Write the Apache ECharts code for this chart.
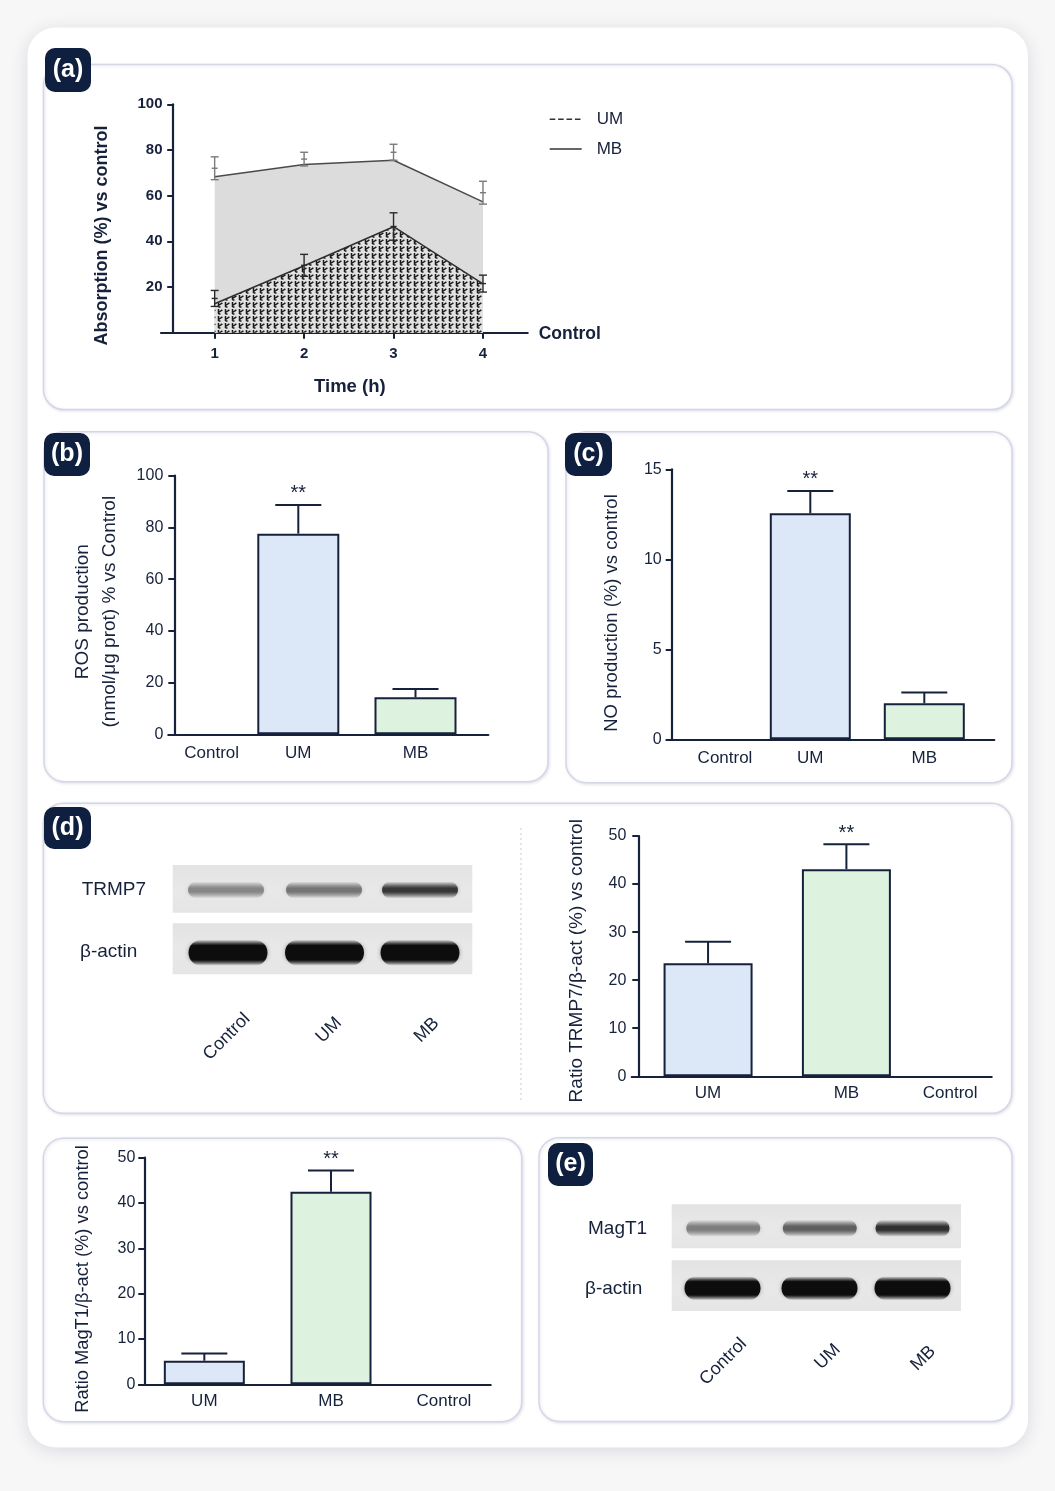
<!DOCTYPE html>
<html>
<head>
<meta charset="utf-8">
<script src="https://cdn.jsdelivr.net/npm/echarts@6/dist/echarts.min.js"></script>
<style>
  html, body { margin: 0; padding: 0; background: #f7f7f8; }
  #chart { width: 1055px; height: 1491px; }
</style>
</head>
<body>
<div id="chart"></div>
<script>
const FONT = '"Liberation Sans", Arial, Helvetica, sans-serif';
const NAVY = '#16213b';

// (a) absorption vs time
const hours = [1, 2, 3, 4];
const umLine = [12.7, 29.3, 46.4, 21.4];
const mbLine = [68.3, 73.6, 75.5, 57.3];
const umMean = [15, 29.5, 46.5, 21.5];
const umErr = [3.5, 4.8, 6, 3.7];
const mbMean = [72, 76, 79, 61.3];
const mbErr = [5, 3, 3.5, 5];

// (b) ROS production
const rosCats = ['Control', 'UM', 'MB'];
const rosVal = [0, 77.6, 14.3];
const rosErr = [0, 11.1, 3.2];
const rosSig = ['', '**', ''];

// (c) NO production
const noCats = ['Control', 'UM', 'MB'];
const noVal = [0, 12.56, 2.0];
const noErr = [0, 1.24, 0.6];
const noSig = ['', '**', ''];

// (d) TRMP7 / b-actin ratio
const trmCats = ['UM', 'MB', 'Control'];
const trmVal = [23.5, 43.1, 0];
const trmErr = [4.5, 5.2, 0];
const trmSig = ['', '**', ''];

// MagT1 / b-actin ratio
const magCats = ['UM', 'MB', 'Control'];
const magVal = [5.2, 42.5, 0];
const magErr = [1.6, 4.7, 0];
const magSig = ['', '**', ''];

// western blot lanes, band darkness 0..1
const laneNames = ['Control', 'UM', 'MB'];
const trmBand = [0.42, 0.5, 0.78];
const magBand = [0.46, 0.6, 0.82];
const actinBand = [0.98, 0.98, 0.98];

const FILL = { UM: '#dce8f8', MB: '#ddf2df', Control: 'rgba(0,0,0,0)' };

// little hatch tile for the UM area
function hatchTile() {
  const c = document.createElement('canvas');
  c.width = 7; c.height = 7;
  const g = c.getContext('2d');
  g.fillStyle = '#e2e2e2';
  g.fillRect(0, 0, 7, 7);
  g.strokeStyle = '#1a1a1a';
  g.lineWidth = 1.5;
  g.beginPath();
  g.moveTo(1.5, 1); g.lineTo(1.5, 6);
  g.moveTo(1.5, 4.5); g.lineTo(5.4, 1.8);
  g.moveTo(1.5, 6); g.lineTo(3.5, 6);
  g.stroke();
  return c;
}

function absErrItem(color) {
  return function (params, api) {
    const x = api.value(0), m = api.value(1), e = api.value(2);
    const lo = api.coord([x, m - e]), hi = api.coord([x, m + e]), mid = api.coord([x, m]);
    const st = { stroke: color, lineWidth: 1.4 };
    return {
      type: 'group',
      children: [
        { type: 'line', shape: { x1: lo[0], y1: lo[1], x2: hi[0], y2: hi[1] }, style: st },
        { type: 'line', shape: { x1: hi[0] - 4, y1: hi[1], x2: hi[0] + 4, y2: hi[1] }, style: st },
        { type: 'line', shape: { x1: lo[0] - 4, y1: lo[1], x2: lo[0] + 4, y2: lo[1] }, style: st },
        { type: 'line', shape: { x1: mid[0] - 3, y1: mid[1], x2: mid[0] + 3, y2: mid[1] }, style: st }
      ]
    };
  };
}

function barErrItem(sig) {
  return function (params, api) {
    const i = api.value(0), v = api.value(1), e = api.value(2);
    if (!e) return null;
    const base = api.coord([i, v]);
    const top = api.coord([i, v + e]);
    const st = { stroke: NAVY, lineWidth: 2 };
    const kids = [
      { type: 'line', shape: { x1: base[0], y1: base[1], x2: top[0], y2: top[1] }, style: st },
      { type: 'line', shape: { x1: top[0] - 23, y1: top[1], x2: top[0] + 23, y2: top[1] }, style: st }
    ];
    const s = sig[params.dataIndex];
    if (s) {
      kids.push({
        type: 'text',
        style: { x: top[0], y: top[1] - 1, text: s, fill: NAVY, fontSize: 20, fontFamily: FONT, align: 'center', verticalAlign: 'bottom' }
      });
    }
    return { type: 'group', children: kids };
  };
}

const option = {
  animation: false,
  backgroundColor: '#f7f7f8',
  textStyle: { fontFamily: FONT },
  grid: [],
  xAxis: [],
  yAxis: [],
  series: [],
  legend: {
    data: [
      { name: 'UM', lineStyle: { type: 'dashed', color: '#333', width: 1.4 } },
      { name: 'MB', lineStyle: { type: 'solid', color: '#333', width: 1.4 } }
    ],
    orient: 'vertical',
    left: 549,
    top: 110.7,
    padding: 0,
    itemWidth: 32,
    itemHeight: 14,
    itemGap: 12.8,
    selectedMode: false,
    itemStyle: { color: 'rgba(0,0,0,0)', borderColor: 'rgba(0,0,0,0)', borderWidth: 0 },
    textStyle: { fontSize: 17, color: NAVY, fontFamily: FONT, padding: [0, 0, 0, 10] }
  },
  graphic: { elements: [] }
};

// ---- panel (a)
option.grid.push({ left: 161, top: 104.3, width: 366.7, height: 228.4, containLabel: false, outerBoundsMode: 'none' });
option.xAxis.push({
  gridIndex: 0, type: 'value', min: 0.4, max: 4.5,
  axisLine: { show: true, onZero: false, lineStyle: { color: NAVY, width: 2.2 } },
  axisTick: { show: true, customValues: hours, length: 6, lineStyle: { color: NAVY, width: 2 } },
  axisLabel: { customValues: hours, fontSize: 15, fontWeight: 'bold', color: NAVY, margin: 14 },
  splitLine: { show: false },
  name: 'Time (h)', nameLocation: 'middle', nameGap: 45,
  nameTextStyle: { fontSize: 18.5, fontWeight: 'bold', color: NAVY, padding: [0, 0, 0, 11] }
});
option.yAxis.push({
  gridIndex: 0, type: 'value', min: 0, max: 100, interval: 20, offset: -12.2,
  axisLine: { show: true, onZero: false, lineStyle: { color: NAVY, width: 2.2 } },
  axisTick: { show: true, length: 6, lineStyle: { color: NAVY, width: 2 } },
  axisLabel: { fontSize: 15, fontWeight: 'bold', color: NAVY, margin: 10.7, formatter: v => (v === 0 ? '' : v) },
  splitLine: { show: false },
  name: 'Absorption (%) vs control', nameLocation: 'middle', nameRotate: 90, nameGap: 62,
  nameTextStyle: { fontSize: 18, fontWeight: 'bold', color: NAVY, padding: [0, 34, 0, 0] }
});
option.series.push({
  name: 'MB', type: 'line', xAxisIndex: 0, yAxisIndex: 0, symbol: 'none',
  data: hours.map((h, i) => [h, mbLine[i]]),
  itemStyle: { color: '#333' },
  lineStyle: { color: '#4a4a4a', width: 1.5 },
  areaStyle: { color: '#dcdcdc', opacity: 1 },
  z: 2
});
option.series.push({
  name: 'UM', type: 'line', xAxisIndex: 0, yAxisIndex: 0, symbol: 'none',
  data: hours.map((h, i) => [h, umLine[i]]),
  itemStyle: { color: '#333' },
  lineStyle: { color: '#2e2e2e', width: 1.5 },
  areaStyle: { color: { image: hatchTile(), repeat: 'repeat' }, opacity: 1 },
  z: 3
});
option.series.push({
  type: 'custom', xAxisIndex: 0, yAxisIndex: 0, z: 4,
  renderItem: absErrItem('#7a7a7a'),
  data: hours.map((h, i) => [h, mbMean[i], mbErr[i]])
});
option.series.push({
  type: 'custom', xAxisIndex: 0, yAxisIndex: 0, z: 4,
  renderItem: absErrItem('#2a2a2a'),
  data: hours.map((h, i) => [h, umMean[i], umErr[i]])
});

// ---- bar panels: a frame grid holds the axes, a data grid holds the bars
function addBarPanel(c) {
  const gF = option.grid.length;
  option.grid.push({ left: c.lineL, top: c.top, width: c.lineW, height: c.h, containLabel: false, outerBoundsMode: 'none' });
  option.grid.push({ left: c.dataL, top: c.top, width: c.dataW, height: c.h, containLabel: false, outerBoundsMode: 'none' });
  const xi = option.xAxis.length;
  option.xAxis.push({
    gridIndex: gF, type: 'category', data: c.cats,
    axisLine: { show: true, onZero: false, lineStyle: { color: NAVY, width: 2.2 } },
    axisTick: { show: false }, axisLabel: { show: false }, splitLine: { show: false }
  });
  const pad = c.shift > 0 ? [0, 0, 0, 2 * c.shift] : [0, -2 * c.shift, 0, 0];
  option.xAxis.push({
    gridIndex: gF + 1, type: 'category', data: c.cats,
    axisLine: { show: false }, axisTick: { show: false }, splitLine: { show: false },
    axisLabel: {
      interval: 0, fontSize: 17, color: NAVY, margin: c.labelMargin,
      formatter: v => (v === 'Control' ? '{s|Control}' : v),
      rich: { s: { fontSize: 17, color: NAVY, fontFamily: FONT, padding: pad } }
    }
  });
  const yi = option.yAxis.length;
  option.yAxis.push({
    gridIndex: gF, type: 'value', min: 0, max: c.max, interval: c.step,
    offset: -(c.axisX - c.lineL),
    axisLine: { show: true, onZero: false, lineStyle: { color: NAVY, width: 2.2 } },
    axisTick: { show: true, length: 6, lineStyle: { color: NAVY, width: 2 } },
    axisLabel: { fontSize: 16, color: NAVY, margin: c.tickMargin },
    splitLine: { show: false },
    name: c.name, nameLocation: 'middle', nameRotate: 90, nameGap: c.nameGap,
    nameTextStyle: { fontSize: c.nameSize, color: NAVY, lineHeight: 27, padding: [0, 2 * c.nameDown, 0, 0] }
  });
  option.yAxis.push({ gridIndex: gF + 1, type: 'value', min: 0, max: c.max, show: false });
  option.series.push({
    type: 'bar', xAxisIndex: xi + 1, yAxisIndex: yi + 1, barWidth: c.barW, z: 2,
    itemStyle: { borderColor: NAVY, borderWidth: 2 },
    data: c.vals.map((v, i) => ({ value: v, itemStyle: { color: FILL[c.cats[i]], borderWidth: v ? 2 : 0 } }))
  });
  option.series.push({
    type: 'custom', xAxisIndex: xi + 1, yAxisIndex: yi + 1, z: 3,
    renderItem: barErrItem(c.sig),
    data: c.vals.map((v, i) => [i, v, c.errs[i]])
  });
}

addBarPanel({
  cats: rosCats, vals: rosVal, errs: rosErr, sig: rosSig,
  lineL: 168.3, lineW: 320, top: 475.7, h: 258.6, axisX: 174.3,
  dataL: 122.5, dataW: 351.6, max: 100, step: 20, barW: 82, shift: 30.6,
  labelMargin: 11, tickMargin: 11,
  name: 'ROS production\n(nmol/μg prot) % vs Control', nameGap: 50.8, nameDown: 6.7, nameSize: 19
});
addBarPanel({
  cats: noCats, vals: noVal, errs: noErr, sig: noSig,
  lineL: 666.7, lineW: 327.6, top: 469.3, h: 270, axisX: 671.7,
  dataL: 639.3, dataW: 342, max: 15, step: 5, barW: 81, shift: 28.7,
  labelMargin: 10.5, tickMargin: 10,
  name: 'NO production (%) vs control', nameGap: 46.5, nameDown: 8.7, nameSize: 18.5
});
addBarPanel({
  cats: trmCats, vals: trmVal, errs: trmErr, sig: trmSig,
  lineL: 631.7, lineW: 360, top: 836, h: 240.3, axisX: 638.3,
  dataL: 638.9, dataW: 415, max: 50, step: 10, barW: 89, shift: -34.6,
  labelMargin: 8.5, tickMargin: 12,
  name: 'Ratio TRMP7/β-act (%) vs control', nameGap: 48, nameDown: 4.6, nameSize: 19
});
addBarPanel({
  cats: magCats, vals: magVal, errs: magErr, sig: magSig,
  lineL: 139, lineW: 351.7, top: 1157.7, h: 226.6, axisX: 144.3,
  dataL: 141, dataW: 380, max: 50, step: 10, barW: 81, shift: -13.7,
  labelMargin: 9, tickMargin: 9,
  name: 'Ratio MagT1/β-act (%) vs control', nameGap: 47.5, nameDown: 8, nameSize: 18.3
});

// ---- decoration: card, panels, badges
const G = option.graphic.elements;
G.push({
  type: 'rect', z: -20, shape: { x: 27.5, y: 27.5, width: 1000.5, height: 1420, r: 28 },
  style: { fill: '#ffffff', shadowBlur: 18, shadowColor: 'rgba(40,45,70,0.14)', shadowOffsetY: 3 }
});
[
  [43.5, 64.5, 968.5, 345],
  [44, 431.7, 504, 350],
  [566, 431.7, 446, 351],
  [43.3, 803.3, 968.4, 310],
  [43.3, 1138.3, 478.4, 283.4],
  [539, 1137.7, 473, 283.7]
].forEach(p => G.push({
  type: 'rect', z: -10, shape: { x: p[0], y: p[1], width: p[2], height: p[3], r: 20 },
  style: { fill: '#ffffff', stroke: '#d4d7e6', lineWidth: 1.5, shadowBlur: 3, shadowColor: 'rgba(110,115,160,0.18)', shadowOffsetX: 1, shadowOffsetY: 1 }
}));
[
  ['(a)', 45, 48, 46, 44],
  ['(b)', 44, 433, 46, 43],
  ['(c)', 565, 433, 47, 43],
  ['(d)', 44, 807, 47, 42],
  ['(e)', 548, 1143, 45, 43]
].forEach(b => {
  G.push({ type: 'rect', z: 20, shape: { x: b[1], y: b[2], width: b[3], height: b[4], r: 10 }, style: { fill: '#0f1f3f' } });
  G.push({
    type: 'text', z: 21, x: b[1] + b[3] / 2, y: b[2] + b[4] / 2,
    style: { text: b[0], fill: '#ffffff', fontSize: 25, fontWeight: 'bold', fontFamily: FONT, align: 'center', verticalAlign: 'middle' }
  });
});

G.push({
  type: 'text', z: 20, x: 538.7, y: 334,
  style: { text: 'Control', fill: NAVY, fontSize: 17.5, fontWeight: 'bold', fontFamily: FONT, align: 'left', verticalAlign: 'middle' }
});
G.push({
  type: 'line', z: 5, shape: { x1: 521, y1: 828, x2: 521, y2: 1100 },
  style: { stroke: '#c9cbd3', lineWidth: 1, lineDash: [2, 3] }
});

// ---- western blots: soft bands fade into the membrane at top and bottom
function blotStrip(x, y, w, h, centers, bandY, bandW, bandH, dark, core) {
  G.push({
    type: 'rect', z: 5, shape: { x: x, y: y, width: w, height: h },
    style: { fill: new echarts.graphic.LinearGradient(0, 0, 0, 1, [{ offset: 0, color: '#e3e3e3' }, { offset: 0.5, color: '#e8e8e8' }, { offset: 1, color: '#e5e5e5' }]) }
  });
  centers.forEach((cx, i) => {
    const g = Math.round(225 * (1 - dark[i]));
    const rgb = g + ',' + g + ',' + g;
    const edge = (1 - core) / 2;
    G.push({
      type: 'rect', z: 6, shape: { x: cx - bandW / 2, y: bandY - bandH / 2, width: bandW, height: bandH, r: bandH / 2 },
      style: {
        fill: new echarts.graphic.LinearGradient(0, 0, 0, 1, [
          { offset: 0, color: 'rgba(' + rgb + ',0)' },
          { offset: edge, color: 'rgba(' + rgb + ',0.95)' },
          { offset: 1 - edge, color: 'rgba(' + rgb + ',0.95)' },
          { offset: 1, color: 'rgba(' + rgb + ',0)' }
        ]),
        shadowBlur: 4, shadowColor: 'rgba(' + rgb + ',0.35)'
      }
    });
  });
}
function blotLabel(text, x, y) {
  G.push({ type: 'text', z: 20, x: x, y: y, style: { text: text, fill: NAVY, fontSize: 19, fontFamily: FONT, align: 'left', verticalAlign: 'middle' } });
}
function laneLabels(pts) {
  pts.forEach((p, i) => G.push({
    type: 'text', z: 20, x: p[0], y: p[1], rotation: Math.PI / 4,
    style: { text: laneNames[i], fill: NAVY, fontSize: 18, fontFamily: FONT, align: 'center', verticalAlign: 'middle' }
  }));
}

blotStrip(172.7, 865, 299.6, 47.7, [226, 324, 420], 890, 76, 17, trmBand, 0.2);
blotStrip(172.7, 923.3, 299.6, 51, [228, 324.5, 420], 952.7, 79, 26, actinBand, 0.55);
blotLabel('TRMP7', 81.7, 890);
blotLabel('β-actin', 80, 951.7);
laneLabels([[226.7, 1036.7], [329, 1030], [426.7, 1030]]);

blotStrip(671.7, 1204.3, 289.3, 44, [723.3, 819.8, 912.5], 1228.3, 74, 17, magBand, 0.2);
blotStrip(671.7, 1260.3, 289.3, 50.7, [722.5, 819.5, 912.5], 1288.3, 76, 24, actinBand, 0.55);
blotLabel('MagT1', 588, 1229);
blotLabel('β-actin', 585, 1289);
laneLabels([[723.3, 1361.7], [827.7, 1356.7], [923.3, 1358.3]]);

const chart = echarts.init(document.getElementById('chart'), null, { width: 1055, height: 1491 });
chart.setOption(option);
</script>
</body>
</html>
